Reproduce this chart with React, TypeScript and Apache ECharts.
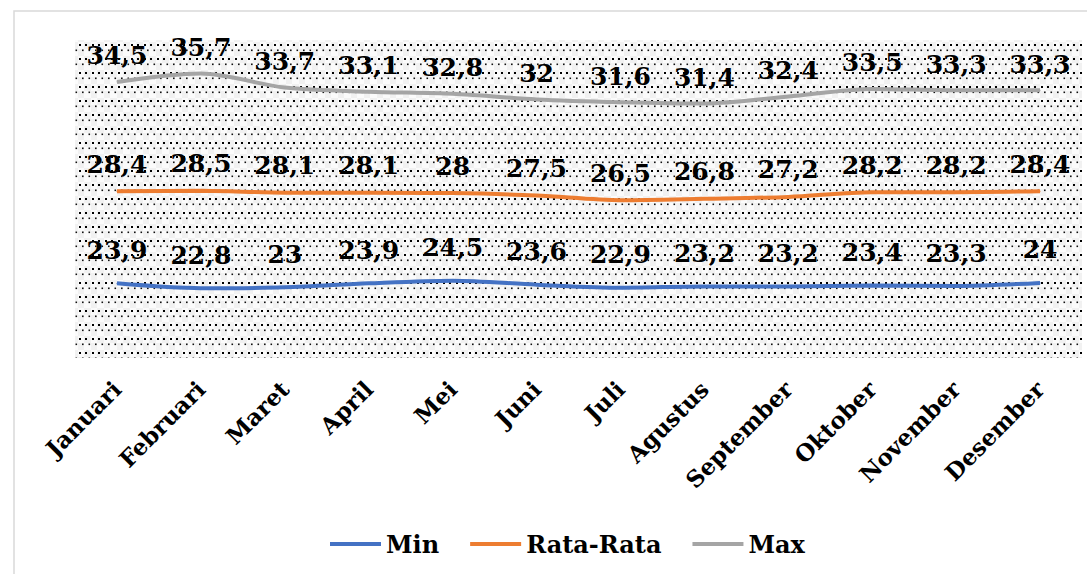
import React, { useEffect, useRef } from "react";
import * as echarts from "echarts";

const months = ["Januari", "Februari", "Maret", "April", "Mei", "Juni", "Juli", "Agustus", "September", "Oktober", "November", "Desember"];
const minValues = [23.9, 22.8, 23, 23.9, 24.5, 23.6, 22.9, 23.2, 23.2, 23.4, 23.3, 24];
const avgValues = [28.4, 28.5, 28.1, 28.1, 28, 27.5, 26.5, 26.8, 27.2, 28.2, 28.2, 28.4];
const maxValues = [34.5, 35.7, 33.7, 33.1, 32.8, 32, 31.6, 31.4, 32.4, 33.5, 33.3, 33.3];
const seriesNames = ["Min", "Rata-Rata", "Max"];

const FONT = "'DejaVu Serif', 'Liberation Serif', serif";

const tile =
  "<svg xmlns='http://www.w3.org/2000/svg' width='13' height='14'>" +
  "<rect width='13' height='14' fill='#f1f1f1'/>" +
  "<rect x='0' y='0' width='6' height='7' fill='#fbfbfb'/>" +
  "<rect x='6' y='7' width='7' height='7' fill='#fbfbfb'/>" +
  "<rect x='1' y='2' width='2' height='2' fill='#000'/>" +
  "<rect x='7' y='2' width='2' height='2' fill='#000'/>" +
  "<rect x='4' y='7.5' width='1.6' height='1.6' fill='#111'/>" +
  "<rect x='10.5' y='7.5' width='1.6' height='1.6' fill='#111'/>" +
  "</svg>";
const tileUrl = "data:image/svg+xml;charset=utf-8," + encodeURIComponent(tile);

export default function App() {
  const ref = useRef<HTMLDivElement>(null);
  useEffect(() => {
    if (!ref.current) return;
    const chart = echarts.init(ref.current, null, { renderer: "svg" });
    const mkLabel = (distance: number) => ({
      show: true,
      position: "top",
      distance,
      color: "#000",
      fontFamily: FONT,
      fontWeight: "bold",
      fontSize: 25,
      formatter: (p: any) => String(p.value).replace(".", ","),
    });
    const mk = (name: string, data: number[], color: string, yAxisIndex: number, dist: number) => ({
      name,
      type: "line",
      data,
      yAxisIndex,
      smooth: 0.3,
      symbol: "circle",
      symbolSize: 1,
      showSymbol: true,
      lineStyle: { color, width: 4 },
      itemStyle: { color },
      label: mkLabel(dist),
      labelLayout: { hideOverlap: false },
    });
    chart.setOption({
      animation: false,
      backgroundColor: "#fff",
      graphic: [
        {
          type: "rect",
          shape: { x: 14, y: 11, width: 1200, height: 700 },
          style: { fill: "none", stroke: "#d9d9d9", lineWidth: 1.5 },
          silent: true,
          z: -1,
        },
      ],
      grid: {
        left: 75,
        right: 5,
        top: 40,
        bottom: 216,
        show: true,
        borderWidth: 0,
        backgroundColor: { image: tileUrl, repeat: "repeat", imageWidth: 13, imageHeight: 14 } as any,
      },
      legend: {
        data: seriesNames,
        top: 527,
        left: 325,
        icon: "rect",
        itemWidth: 51,
        itemHeight: 4,
        itemGap: 31,
        textStyle: { fontFamily: FONT, fontWeight: "bold", fontSize: 24, color: "#000" },
      },
      xAxis: {
        type: "category",
        data: months,
        boundaryGap: true,
        axisLine: { show: false },
        axisTick: { show: false },
        splitLine: { show: false },
        axisLabel: {
          rotate: 45,
          margin: 27,
          interval: 0,
          color: "#000",
          fontFamily: FONT,
          fontWeight: "bold",
          fontSize: 23,
        },
      },
      yAxis: [
        { type: "value", min: 7, max: 79, show: false, splitLine: { show: false } },
        { type: "value", min: -7, max: 60.5, show: false, splitLine: { show: false } },
        { type: "value", min: -5, max: 40.5, show: false, splitLine: { show: false } },
      ],
      series: [
        mk(seriesNames[0], minValues, "#4472C4", 0, 20),
        mk(seriesNames[1], avgValues, "#ED7D31", 1, 14),
        mk(seriesNames[2], maxValues, "#A5A5A5", 2, 13),
      ],
    });
    return () => chart.dispose();
  }, []);
  return (
    <div
      ref={ref}
      style={{ position: "fixed", left: 0, top: 0, width: 1087, height: 574 }}
    />
  );
}
